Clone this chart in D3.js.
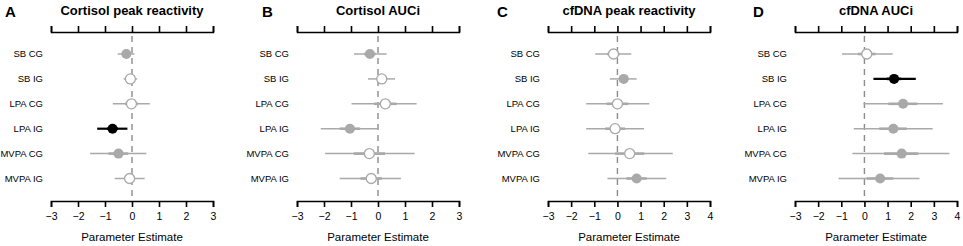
<!DOCTYPE html>
<html>
<head>
<meta charset="utf-8">
<script src="https://cdn.jsdelivr.net/npm/d3@7"></script>
<style>
	body { margin: 0; background: #fff; }
	text { font-family: "Liberation Sans", Arial, sans-serif; }
</style>
</head>
<body>
<div id="chart-area"></div>
<script>

// SVG Size
let width 	= 963,
	height	= 246;

// data
let rows    = ["SB CG", "SB IG", "LPA CG", "LPA IG", "MVPA CG", "MVPA IG"];
let letters = ["A", "B", "C", "D"];
let titles  = ["Cortisol peak reactivity", "Cortisol AUCi", "cfDNA peak reactivity", "cfDNA AUCi"];
let domains = [[-3, 3], [-3, 3], [-3, 4], [-3, 4]];

// point estimates, one list per panel
let est = [
	[-0.21, -0.06, -0.02, -0.72, -0.50, -0.09],
	[-0.30,  0.14,  0.27, -1.04, -0.32, -0.25],
	[-0.17,  0.27,  0.00, -0.10,  0.53,  0.83],
	[ 0.10,  1.28,  1.67,  1.25,  1.61,  0.68]
];
// outer interval (thin line)
let lo95 = [
	[-0.53, -0.31, -0.71, -1.29, -1.55, -0.64],
	[-0.89, -0.37, -0.98, -2.12, -1.96, -1.42],
	[-0.96, -0.33, -1.35, -1.35, -1.26, -0.43],
	[-0.97,  0.39, -0.04, -0.46, -0.52, -1.12]
];
let hi95 = [
	[ 0.09,  0.19,  0.66, -0.17,  0.53,  0.47],
	[ 0.32,  0.63,  1.43,  0.01,  1.36,  0.85],
	[ 0.60,  0.83,  1.38,  1.15,  2.39,  2.11],
	[ 1.22,  2.22,  3.39,  2.95,  3.67,  2.38]
];
// inner interval (thick line)
let lo50 = [
	[-0.32, -0.15, -0.26, -0.92, -0.87, -0.28],
	[-0.51, -0.04, -0.15, -1.42, -0.90, -0.65],
	[-0.44,  0.06, -0.47, -0.53, -0.10,  0.39],
	[-0.28,  0.97,  1.03,  0.64,  0.85,  0.10]
];
let hi50 = [
	[-0.10,  0.03,  0.22, -0.52, -0.14,  0.10],
	[-0.09,  0.32,  0.69, -0.66,  0.26,  0.15],
	[ 0.10,  0.48,  0.47,  0.33,  1.16,  1.27],
	[ 0.48,  1.59,  2.29,  1.83,  2.33,  1.25]
];
// marker type
let kinds = [
	["gray", "open", "open", "black", "gray", "open"],
	["gray", "open", "open", "gray", "open", "open"],
	["open", "gray", "open", "open", "open", "gray"],
	["open", "black", "gray", "gray", "gray", "gray"]
];

// layout
let plotLeft  = [51, 297, 548, 795],
	plotW     = 162,
	axTop     = 32,
	axBottom  = 201;
let letterX   = [5, 262, 497, 753];
let grey      = "#a9a9a9";

let svg = d3.select("#chart-area")
	.append("svg")
	.attr("width", width)
	.attr("height", height);

let yScale = d3.scalePoint()
	.domain(rows)
	.range([54, 178.5]);

letters.forEach((letter, p) => {
	let x = d3.scaleLinear()
		.domain(domains[p])
		.range([plotLeft[p], plotLeft[p] + plotW]);

	let g = svg.append("g");

	// axes
	let ticks = d3.range(domains[p][0], domains[p][1] + 1);
	g.append("g")
		.attr("transform", "translate(0," + axTop + ")")
		.call(d3.axisTop(x).tickValues(ticks).tickFormat("").tickSize(6).tickSizeOuter(6))
		.call(a => a.selectAll("path, line").attr("stroke", "#000").attr("stroke-width", 1.6));

	g.append("g")
		.attr("transform", "translate(0," + axBottom + ")")
		.call(d3.axisBottom(x).tickValues(ticks).tickFormat(d3.format("d"))
			.tickSize(6).tickSizeOuter(6).tickPadding(6))
		.call(a => a.selectAll("path, line").attr("stroke", "#000").attr("stroke-width", 1.6))
		.call(a => a.selectAll("text")
			.attr("fill", "#000")
			.style("font-size", "10.5px")
			.style("font-family", "'Liberation Sans', Arial, sans-serif"));

	// zero line
	g.append("line")
		.attr("x1", x(0)).attr("x2", x(0))
		.attr("y1", axTop + 4).attr("y2", axBottom - 2)
		.attr("stroke", "#8c8c8c")
		.attr("stroke-width", 1.4)
		.attr("stroke-dasharray", "6,5");

	// row labels
	g.selectAll(".rowlab")
		.data(rows)
		.enter()
		.append("text")
		.attr("x", plotLeft[p] - 8)
		.attr("y", d => yScale(d))
		.attr("dy", "0.35em")
		.style("text-anchor", "end")
		.style("font-size", "9.5px")
		.text(d => d);

	let color = (i) => kinds[p][i] === "black" ? "#000" : grey;

	// outer interval
	g.selectAll(".outer")
		.data(rows)
		.enter()
		.append("line")
		.attr("x1", (d, i) => x(lo95[p][i]))
		.attr("x2", (d, i) => x(hi95[p][i]))
		.attr("y1", d => yScale(d))
		.attr("y2", d => yScale(d))
		.attr("stroke", (d, i) => color(i))
		.attr("stroke-width", (d, i) => kinds[p][i] === "black" ? 2.2 : 1.5);

	// inner interval
	g.selectAll(".inner")
		.data(rows)
		.enter()
		.append("line")
		.attr("x1", (d, i) => x(lo50[p][i]))
		.attr("x2", (d, i) => x(hi50[p][i]))
		.attr("y1", d => yScale(d))
		.attr("y2", d => yScale(d))
		.attr("stroke", (d, i) => color(i))
		.attr("stroke-width", 2.6);

	// points
	g.selectAll("circle")
		.data(rows)
		.enter()
		.append("circle")
		.attr("cx", (d, i) => x(est[p][i]))
		.attr("cy", d => yScale(d))
		.attr("r", 5)
		.attr("fill", (d, i) => kinds[p][i] === "open" ? "#fff" : color(i))
		.attr("stroke", (d, i) => color(i))
		.attr("stroke-width", (d, i) => kinds[p][i] === "open" ? 1.3 : 0);

	// titles
	g.append("text")
		.attr("x", plotLeft[p] + plotW / 2)
		.attr("y", 15)
		.style("text-anchor", "middle")
		.style("font-size", "13px")
		.style("font-weight", "bold")
		.text(titles[p]);

	g.append("text")
		.attr("x", letterX[p])
		.attr("y", 17)
		.style("font-size", "15px")
		.style("font-weight", "bold")
		.text(letter);

	g.append("text")
		.attr("x", plotLeft[p] + plotW / 2)
		.attr("y", 241)
		.style("text-anchor", "middle")
		.style("font-size", "11.5px")
		.text("Parameter Estimate");
});

</script>
</body>
</html>
